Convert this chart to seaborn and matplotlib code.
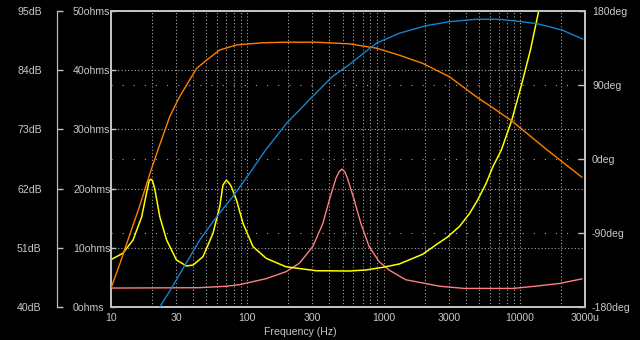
import numpy as np
import pandas as pd
import matplotlib
matplotlib.use("Agg")
import matplotlib.pyplot as plt
import seaborn as sns
from matplotlib.ticker import LogLocator, FixedLocator, NullFormatter

# ---- measured curves -------------------------------------------------------
# sound pressure level (dB)
spl_freq = [10, 11.6, 13.8, 16.3, 19.3, 22.1, 27.0, 31.9, 42.5, 50.4, 62.7, 83.5,
            130, 193, 320, 560, 882, 1300, 1920, 3030, 4770, 6680, 8690, 15800, 28500]
spl_db = [43.5, 48.0, 53.6, 58.9, 64.8, 69.2, 75.4, 79.1, 84.35, 85.9, 87.75, 88.7,
          89.1, 89.2, 89.2, 88.9, 88.1, 86.8, 85.3, 82.8, 79.1, 76.6, 74.6, 69.2, 64.1]

# phase (deg)
phase_freq = [22.8, 27.8, 44.8, 59.6, 78.1, 104, 136, 194, 300, 420, 560, 882, 1300,
              2040, 3030, 4770, 7000, 10300, 13700, 20300, 28900]
phase_deg = [-180, -157, -98.5, -70.2, -45.9, -17.4, 10.9, 43.4, 75.8, 100.1, 114.9,
             140.7, 152.9, 162.1, 167.0, 169.9, 169.9, 167.0, 164.2, 156.9, 145.9]

# impedance (ohms)
imp_freq = [10, 12.2, 14.5, 16.8, 18.2, 19.05, 19.6, 20.2, 21.0, 22.8, 25.6, 30.2,
            35.8, 40.0, 47.3, 56.0, 62.7, 66.3, 70.2, 74.3, 76.4, 83.2, 93.1, 110,
            138, 192, 319, 559, 740, 983, 1300, 1932, 2420, 2935, 3600, 4270, 4900,
            5650, 6330, 7300, 8720, 10340, 11930, 13700, 14900]
imp_ohms = [8.0, 9.07, 11.3, 15.25, 19.2, 21.3, 21.6, 21.3, 19.8, 15.25, 11.3, 7.94,
            6.93, 7.09, 8.5, 12.45, 16.9, 20.6, 21.45, 20.8, 20.3, 18.1, 14.1, 10.2,
            8.2, 6.8, 6.13, 6.08, 6.25, 6.7, 7.26, 8.9, 10.5, 11.8, 13.6, 15.8, 18.1,
            20.9, 23.7, 26.5, 31.6, 37.8, 43.4, 49.9, 53.5]

# second impedance trace (ohms)
imp2_freq = [10, 44, 70, 89, 138, 192, 241, 302, 358, 400, 446, 470, 494, 520, 543,
             608, 681, 783, 927, 1095, 1300, 1455, 2600, 3880, 8930, 12800, 19400, 28500]
imp2_ohms = [3.2, 3.26, 3.5, 3.8, 4.8, 5.96, 7.4, 10.2, 14.1, 18.1, 21.7, 22.8, 23.3,
             22.8, 21.7, 18.1, 14.1, 10.2, 7.65, 6.25, 5.24, 4.6, 3.5, 3.14, 3.14,
             3.5, 3.97, 4.75]

# ---- axis scales -----------------------------------------------------------
x_ticks = [10, 30, 100, 300, 1000, 3000, 10000, 30000]
x_labels = ["10", "30", "100", "300", "1000", "3000", "10000", "3000u"]
ohm_ticks = [0, 10, 20, 30, 40, 50]
db_ticks = [40, 51, 62, 73, 84, 95]
deg_ticks = [-180, -90, 0, 90, 180]

TXT = "#c8c8c8"
GRID = "#a8a8a8"
FRAME = "#c0c0c0"
PX = 72 / 100  # points per pixel

sns.set_style("dark", {"axes.facecolor": "black", "figure.facecolor": "black"})
plt.rcParams["font.family"] = ["Liberation Sans", "DejaVu Sans"]
plt.rcParams["font.size"] = 7.6

fig = plt.figure(figsize=(6.4, 3.4), dpi=100, facecolor="black")
ax = fig.add_axes([111 / 640, 33 / 340, 474 / 640, 296 / 340])
ax.set_facecolor("black")

imp_df = pd.DataFrame({"freq": imp_freq, "ohms": imp_ohms})
imp2_df = pd.DataFrame({"freq": imp2_freq, "ohms": imp2_ohms})
spl_df = pd.DataFrame({"freq": spl_freq, "db": spl_db})
phase_df = pd.DataFrame({"freq": phase_freq, "deg": phase_deg})

ax.set_xscale("log")
sns.lineplot(data=imp2_df, x="freq", y="ohms", ax=ax, color="#ff8080", lw=1.0,
             estimator=None, sort=False, legend=False)
sns.lineplot(data=imp_df, x="freq", y="ohms", ax=ax, color="#ffff00", lw=1.1,
             estimator=None, sort=False, legend=False)
ax.set_xlim(10, 30000)
ax.set_ylim(0, 50)

# grids: log-decade verticals, ohm horizontals, sparse phase rows
ax.xaxis.set_major_locator(FixedLocator(x_ticks))
ax.set_xticklabels(x_labels)
ax.xaxis.set_minor_locator(LogLocator(base=10, subs=np.arange(1, 10)))
ax.xaxis.set_minor_formatter(NullFormatter())
ax.tick_params(axis="x", which="both", length=0, colors=TXT, pad=4)
ax.set_yticks(ohm_ticks)
ax.set_yticklabels([f"{v}ohms" for v in ohm_ticks])
deg_as_ohm = [(d + 180) / 360 * 50 for d in deg_ticks[1:-1]]
ax.yaxis.set_minor_locator(FixedLocator(deg_as_ohm))
ax.tick_params(axis="y", which="major", direction="in", length=5 * PX, width=1,
               color=FRAME, labelcolor=TXT, pad=38 * PX)
ax.tick_params(axis="y", which="minor", length=0)
ax.grid(axis="x", which="both", color=GRID, lw=0.8, linestyle=(0, (1, 2)))
ax.grid(axis="y", which="major", color=GRID, lw=0.8, linestyle=(0, (1, 2)))
ax.grid(axis="y", which="minor", color=GRID, lw=0.8, linestyle=(0, (1, 9)))
ax.set_axisbelow(True)
for s in ax.spines.values():
    s.set_visible(True)
    s.set_color(FRAME)
    s.set_linewidth(2 * PX)
ax.set_ylabel("")
ax.set_xlabel("Frequency (Hz)", color=TXT)
ax.xaxis.set_label_coords((300 - 111) / 474, -20 / 296)

# SPL axis (dB) on an offset left spine
ax_db = ax.twinx()
sns.lineplot(data=spl_df, x="freq", y="db", ax=ax_db, color="#ff8000", lw=1.0,
             estimator=None, sort=False, legend=False)
for k in ("right", "top", "bottom"):
    ax_db.spines[k].set_visible(False)
ax_db.spines["left"].set_visible(True)
ax_db.spines["left"].set_position(("outward", 54 * PX))
ax_db.spines["left"].set_color(FRAME)
ax_db.spines["left"].set_linewidth(1.2 * PX)
ax_db.set_ylim(40, 95)
ax_db.yaxis.tick_left()
ax_db.set_yticks(db_ticks)
ax_db.set_yticklabels([f"{v}dB" for v in db_ticks])
ax_db.tick_params(axis="y", direction="in", length=6 * PX, width=1, color=FRAME,
                  labelcolor=TXT, pad=40 * PX)
ax_db.set_ylabel("")
ax_db.grid(False)

# phase axis (deg) on the right
ax_deg = ax.twinx()
sns.lineplot(data=phase_df, x="freq", y="deg", ax=ax_deg, color="#1484d0", lw=1.0,
             estimator=None, sort=False, legend=False)
ax_deg.set_ylim(-180, 180)
ax_deg.set_yticks(deg_ticks)
ax_deg.set_yticklabels([f"{v}deg" for v in deg_ticks])
ax_deg.tick_params(axis="y", direction="in", length=7 * PX, width=1, color=FRAME,
                   labelcolor=TXT, pad=7 * PX)
for s in ax_deg.spines.values():
    s.set_visible(False)
ax_deg.set_ylabel("")
ax_deg.grid(False)

ax.set_xlim(10, 30000)

# left-side labels start at a fixed column
for t in ax.get_yticklabels() + ax_db.get_yticklabels():
    t.set_horizontalalignment("left")

fig.savefig("out.png", dpi=100, facecolor="black")
